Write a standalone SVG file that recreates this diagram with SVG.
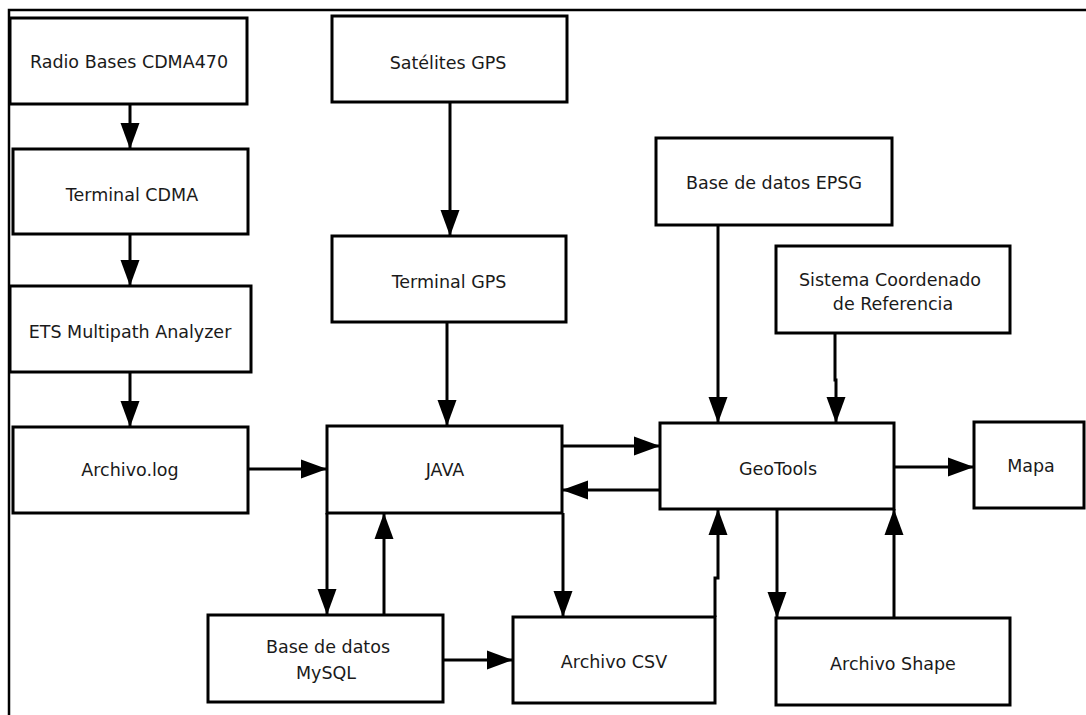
<svg xmlns="http://www.w3.org/2000/svg" width="1086" height="715" viewBox="0 0 1086 715">
<defs>
<marker id="ah" markerUnits="userSpaceOnUse" markerWidth="27" markerHeight="20" refX="26" refY="10" orient="auto">
<path d="M0,0.5 L26,10 L0,19.5 z" fill="#000"/>
</marker>
<style>
.box{fill:#fff;stroke:#000;stroke-width:3}
.t{font-family:"DejaVu Sans",Verdana,sans-serif;font-size:17.5px;fill:#1a1a1a;text-anchor:middle}
.c{fill:none;stroke:#000;stroke-width:3;marker-end:url(#ah)}
.frame{fill:none;stroke:#000;stroke-width:2.5}
</style>
</defs>
<rect width="1086" height="715" fill="#fff"/>
<path class="frame" d="M9,715 V10 H1086"/>

<g id="radio"><rect class="box" x="10" y="18" width="237" height="86"/><text class="t" x="129" y="68">Radio Bases CDMA470</text></g>
<g id="terminal-cdma"><rect class="box" x="13" y="149" width="235" height="85"/><text class="t" x="132" y="201">Terminal CDMA</text></g>
<g id="ets"><rect class="box" x="10" y="286" width="241" height="86"/><text class="t" x="130" y="338">ETS Multipath Analyzer</text></g>
<g id="archivo-log"><rect class="box" x="13" y="427" width="235" height="86"/><text class="t" x="130" y="476">Archivo.log</text></g>
<g id="satelites"><rect class="box" x="332" y="16" width="235" height="86"/><text class="t" x="448" y="69">Satélites GPS</text></g>
<g id="terminal-gps"><rect class="box" x="332" y="236" width="234" height="86"/><text class="t" x="449" y="288">Terminal GPS</text></g>
<g id="java"><rect class="box" x="327" y="426" width="235" height="87"/><text class="t" x="445" y="476">JAVA</text></g>
<g id="epsg"><rect class="box" x="656" y="138" width="236" height="87"/><text class="t" x="774" y="189">Base de datos EPSG</text></g>
<g id="sistema"><rect class="box" x="776" y="246" width="234" height="87"/><text class="t" x="890" y="286">Sistema Coordenado</text><text class="t" x="893" y="310">de Referencia</text></g>
<g id="geotools"><rect class="box" x="660" y="423" width="234" height="86"/><text class="t" x="778" y="475">GeoTools</text></g>
<g id="mapa"><rect class="box" x="974" y="422" width="110" height="86"/><text class="t" x="1031" y="472">Mapa</text></g>
<g id="mysql"><rect class="box" x="208" y="615" width="235" height="87"/><text class="t" x="328" y="653">Base de datos</text><text class="t" x="326" y="679">MySQL</text></g>
<g id="csv"><rect class="box" x="513" y="617" width="202" height="86"/><text class="t" x="614" y="668">Archivo CSV</text></g>
<g id="shape"><rect class="box" x="776" y="618" width="234" height="87"/><text class="t" x="893" y="670">Archivo Shape</text></g>

<g id="connectors">
<path class="c" d="M130,104 V149"/>
<path class="c" d="M130,234 V286"/>
<path class="c" d="M130,372 V427"/>
<path class="c" d="M450,102 V236"/>
<path class="c" d="M447,322 V426"/>
<path class="c" d="M248,469 H327"/>
<path class="c" d="M562,446 H660"/>
<path class="c" d="M660,490 H562"/>
<path class="c" d="M327,513 V615"/>
<path class="c" d="M384,615 V513"/>
<path class="c" d="M563,513 V617"/>
<path class="c" d="M443,660 H513"/>
<path class="c" d="M715,617 V578 H718 V509"/>
<path class="c" d="M718,225 V423"/>
<path class="c" d="M835,333 V380 H836 V423"/>
<path class="c" d="M894,467 H974"/>
<path class="c" d="M777,509 V618"/>
<path class="c" d="M894,618 V509"/>
</g>
</svg>
